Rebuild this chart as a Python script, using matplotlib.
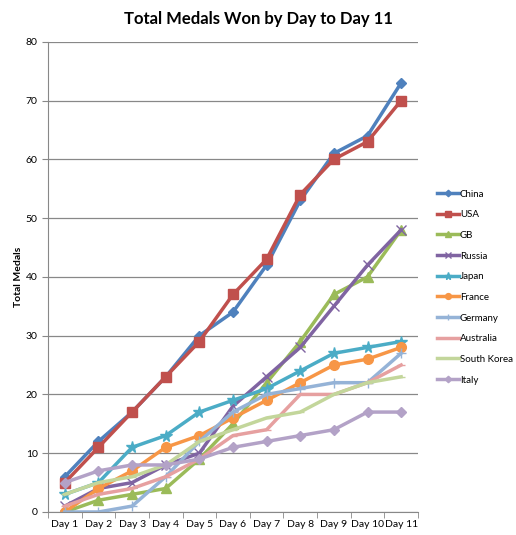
import matplotlib
matplotlib.use("Agg")
from matplotlib import pyplot as plt

days = ["Day 1", "Day 2", "Day 3", "Day 4", "Day 5", "Day 6",
        "Day 7", "Day 8", "Day 9", "Day 10", "Day 11"]

china = [6, 12, 17, 23, 30, 34, 42, 53, 61, 64, 73]
usa = [5, 11, 17, 23, 29, 37, 43, 54, 60, 63, 70]
gb = [0, 2, 3, 4, 9, 15, 22, 29, 37, 40, 48]
russia = [1, 4, 5, 8, 10, 18, 23, 28, 35, 42, 48]
japan = [3, 5, 11, 13, 17, 19, 21, 24, 27, 28, 29]
france = [0, 4, 7, 11, 13, 16, 19, 22, 25, 26, 28]
germany = [0, 0, 1, 6, 12, 17, 20, 21, 22, 22, 27]
australia = [1, 3, 4, 6, 9, 13, 14, 20, 20, 22, 25]
south_korea = [3, 5, 6, 8, 12, 14, 16, 17, 20, 22, 23]
italy = [5, 7, 8, 8, 9, 11, 12, 13, 14, 17, 17]

series = [
    ("China", china, "#4F81BD", "D"),
    ("USA", usa, "#C0504D", "s"),
    ("GB", gb, "#9BBB59", "^"),
    ("Russia", russia, "#8064A2", "x"),
    ("Japan", japan, "#4BACC6", "*"),
    ("France", france, "#F79646", "o"),
    ("Germany", germany, "#95B3D7", "+"),
    ("Australia", australia, "#E6A0A0", "_"),
    ("South Korea", south_korea, "#C3D69B", "_"),
    ("Italy", italy, "#B3A2C7", "D"),
]
marker_sizes = {"D": 5.5, "s": 6.5, "^": 6.5, "x": 6.5, "*": 8.5,
                "o": 7, "+": 7, "_": 6}

plt.rcParams['font.family'] = ['Lato', 'DejaVu Sans']

fig = plt.figure(figsize=(5.16, 5.35), dpi=100)
ax = fig.add_axes([0.093, 0.043, 0.717, 0.879])

x = list(range(len(days)))
for name, vals, col, mk in series:
    ax.plot(x, vals, color=col, lw=2.5, marker=mk, markersize=marker_sizes[mk],
            markerfacecolor=col, markeredgecolor=col, markeredgewidth=1.0,
            label=name)

ax.set_xlim(-0.5, len(days) - 0.5)
ax.set_ylim(0, 80)
ax.set_yticks(range(0, 81, 10))
ax.set_xticks(x)
ax.set_xticklabels(days, fontsize=7.5)
ax.tick_params(axis='y', labelsize=7.5, length=4, color='#888888')
ax.set_xticks([i + 0.5 for i in range(-1, len(days))], minor=True)
ax.tick_params(axis='x', which='major', length=0, pad=6)
ax.tick_params(axis='x', which='minor', length=4, color='#888888')
ax.grid(True, axis='y', color='#888888', lw=0.9)
ax.set_axisbelow(True)
for s in ["top", "right"]:
    ax.spines[s].set_visible(False)
ax.spines["left"].set_color('#888888')
ax.spines["bottom"].set_color('#888888')

ax.set_ylabel("Total Medals", fontsize=7.5, fontweight='bold', labelpad=2)
fig.suptitle("Total Medals Won by Day to Day 11", fontsize=12,
             fontweight='bold', x=0.5, y=0.98)

ax.legend(loc='upper left', bbox_to_anchor=(1.04, 0.694), frameon=False,
          fontsize=7, handlelength=2.3, handletextpad=0.1,
          labelspacing=1.2, borderaxespad=0, markerscale=0.6)

fig.savefig("out.png", dpi=100)
